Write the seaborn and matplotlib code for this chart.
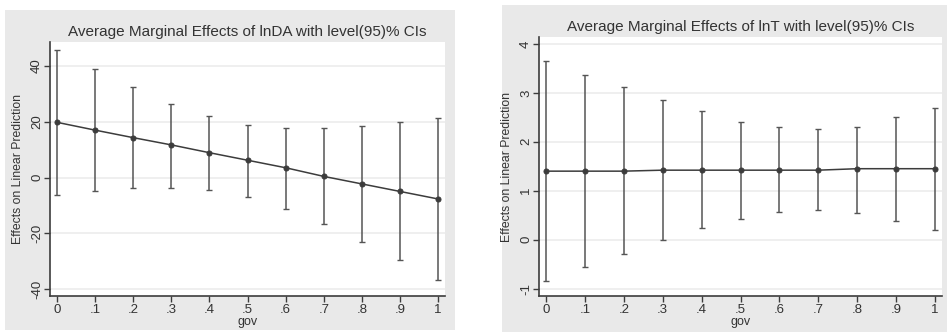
import matplotlib
matplotlib.use("Agg")
import matplotlib.pyplot as plt
import matplotlib.patches as mpatches
from matplotlib.ticker import FuncFormatter
import seaborn as sns
import pandas as pd

# ─── Data ────────────────────────────────────────────────────────────────────
gov = [0, 0.1, 0.2, 0.3, 0.4, 0.5, 0.6, 0.7, 0.8, 0.9, 1.0]

da_mean = [19.8, 17.0, 14.3, 11.7, 8.9, 6.2, 3.5, 0.4, -2.3, -5.0, -7.7]
da_lo   = [-6.2, -4.8, -3.8, -3.8, -4.5, -7.1, -11.3, -16.8, -23.2, -29.6, -36.9]
da_hi   = [45.8, 38.8, 32.4, 26.5, 22.1, 19.0, 17.7, 17.7, 18.5, 19.8, 21.2]

t_mean = [1.40, 1.40, 1.40, 1.42, 1.42, 1.42, 1.42, 1.42, 1.45, 1.45, 1.45]
t_lo   = [-0.84, -0.56, -0.29, -0.01, 0.23, 0.43, 0.56, 0.61, 0.54, 0.39, 0.19]
t_hi   = [3.65, 3.37, 3.11, 2.86, 2.62, 2.41, 2.30, 2.26, 2.31, 2.50, 2.69]

titles = ["Average Marginal Effects of lnDA with level(95)% CIs",
          "Average Marginal Effects of lnT with level(95)% CIs"]

LINE = "#3c3c3c"
GRAY_BG = "#e9e9e9"
GRID = "#ececec"

sns.set_style("white")
plt.rcParams["font.family"] = ["Liberation Sans", "DejaVu Sans"]


def stata_num(v, _pos=None):
    """Stata-style tick labels: .1 instead of 0.1"""
    if abs(v - round(v)) < 1e-9:
        return str(int(round(v)))
    s = f"{v:g}"
    return s.replace("0.", ".", 1)


def draw_panel(fig, bg_rect, ax_rect, mean, lo, hi, yticks, ylim, title):
    fig.patches.append(mpatches.Rectangle(
        bg_rect[:2], bg_rect[2], bg_rect[3], transform=fig.transFigure,
        facecolor=GRAY_BG, edgecolor="none", zorder=-5))
    ax = fig.add_axes(ax_rect)
    ax.set_facecolor("white")

    df = pd.DataFrame({"gov": gov, "mean": mean, "lo": lo, "hi": hi})
    ax.errorbar(df["gov"], df["mean"],
                yerr=[df["mean"] - df["lo"], df["hi"] - df["mean"]],
                fmt="none", ecolor="#555555", elinewidth=1.1,
                capsize=2.5, capthick=1.0, zorder=2)
    sns.lineplot(data=df, x="gov", y="mean", ax=ax, color=LINE,
                 linewidth=1.1, marker="o", markersize=3.6,
                 markeredgecolor=LINE, markerfacecolor=LINE, zorder=3)

    ax.set_xlim(-0.018, 1.018)
    ax.set_ylim(*ylim)
    ax.set_xticks(gov)
    ax.set_yticks(yticks)
    ax.xaxis.set_major_formatter(FuncFormatter(stata_num))
    ax.yaxis.set_major_formatter(FuncFormatter(stata_num))
    for lab in ax.get_yticklabels():
        lab.set_rotation(90)
        lab.set_va("center")
    ax.tick_params(axis="both", direction="out", length=4, width=1,
                   color=LINE, labelsize=9.5, labelcolor="#333333", pad=2)
    ax.tick_params(axis="y", pad=1)
    ax.tick_params(axis="both", bottom=True, left=True)
    ax.grid(axis="y", color=GRID, linewidth=1.2)
    ax.grid(axis="x", visible=False)
    for side in ("top", "right"):
        ax.spines[side].set_visible(False)
    for side in ("left", "bottom"):
        ax.spines[side].set_color(LINE)
        ax.spines[side].set_linewidth(1.2)

    ax.set_xlabel("gov", fontsize=9, color="#333333", labelpad=0)
    ax.set_ylabel("Effects on Linear Prediction", fontsize=8.8,
                  color="#333333", labelpad=5)
    ax.set_title(title, fontsize=11, color="#333333", pad=4)
    return ax


W, H = 947, 332
fig = plt.figure(figsize=(W / 100, H / 100), dpi=100)
fig.patch.set_facecolor("white")


def fr(x0, y0, x1, y1):
    # pixel box (top-left origin) -> figure fraction rect
    return [x0 / W, 1 - y1 / H, (x1 - x0) / W, (y1 - y0) / H]


draw_panel(fig, fr(5, 10, 455, 330), fr(50, 42, 445, 296),
           da_mean, da_lo, da_hi, [-40, -20, 0, 20, 40], (-42.5, 48.6), titles[0])
draw_panel(fig, fr(502, 5, 947, 332), fr(539, 37, 942, 296),
           t_mean, t_lo, t_hi, [-1, 0, 1, 2, 3, 4], (-1.15, 4.14), titles[1])

fig.savefig("out.png", dpi=100)
